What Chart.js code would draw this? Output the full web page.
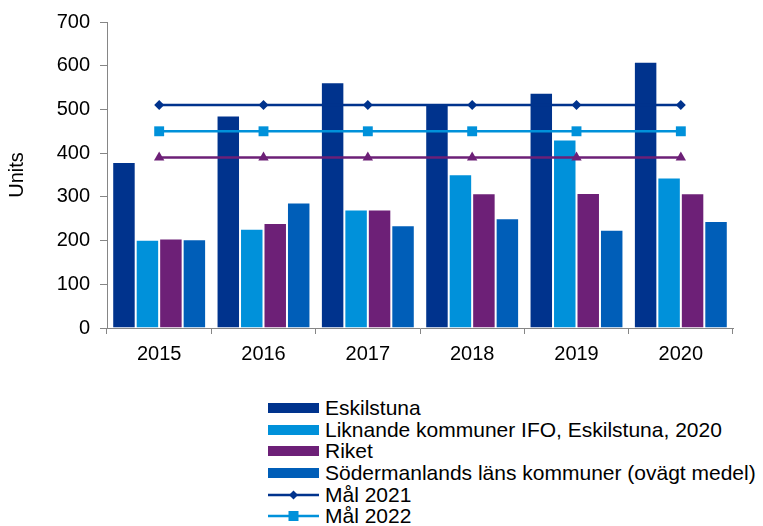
<!DOCTYPE html>
<html>
<head>
<meta charset="utf-8">
<script src="https://cdn.jsdelivr.net/npm/chart.js@4"></script>
<style>
    body { margin: 0; background: #fff; font-family: 'Liberation Sans', Arial, sans-serif; }
    #wrap { position: relative; width: 763px; height: 526px; overflow: hidden; }
    #chart { position: absolute; left: 0; top: 0; }
    #legend { position: absolute; left: 268px; top: 397px; font-size: 21px; color: #000; }
    .row { display: flex; align-items: center; height: 21.7px; white-space: nowrap; }
    .swatch { width: 51px; height: 10px; margin-right: 6px; }
    .row svg { margin-right: 6px; }
</style>
</head>
<body>
<div id="wrap">
    <canvas id="chart" width="763" height="370"></canvas>
    <div id="legend"></div>
</div>
<script>
// Data
const years = ['2015', '2016', '2017', '2018', '2019', '2020'];
const eskilstuna = [380, 486, 562, 510, 538, 609];
const liknande = [202, 227, 271, 352, 431, 344];
const riket = [205, 240, 271, 308, 309, 308];
const sodermanland = [203, 287, 235, 251, 225, 245];
const mal2021 = [510, 510, 510, 510, 510, 510];
const mal2022 = [450, 450, 450, 450, 450, 450];
const mal2023 = [390, 390, 390, 390, 390, 390];
const yTicks = [0, 100, 200, 300, 400, 500, 600, 700];

const FONT = "'Liberation Sans', Arial, sans-serif";
const AXIS_COLOR = '#868686';

const barSeries = [
    { label: 'Eskilstuna', data: eskilstuna, color: '#00338D' },
    { label: 'Liknande kommuner IFO, Eskilstuna, 2020', data: liknande, color: '#0091DA' },
    { label: 'Riket', data: riket, color: '#6D2077' },
    { label: 'Södermanlands läns kommuner (ovägt medel)', data: sodermanland, color: '#005EB8' }
];
const lineSeries = [
    { label: 'Mål 2021', data: mal2021, color: '#00338D', style: 'rectRot', radius: 5 },
    { label: 'Mål 2022', data: mal2022, color: '#0091DA', style: 'rect', radius: 7 },
    { label: 'Mål 2023', data: mal2023, color: '#6D2077', style: 'triangle', radius: 6 }
];

const datasets = [];
barSeries.forEach(s => {
    datasets.push({
        type: 'bar',
        label: s.label,
        data: s.data,
        backgroundColor: s.color,
        borderColor: 'rgba(255,255,255,0.7)',
        borderWidth: 1,
        categoryPercentage: 0.9,
        barPercentage: 1.0,
        order: 1
    });
});
lineSeries.forEach(s => {
    datasets.push({
        type: 'line',
        label: s.label,
        data: s.data,
        borderColor: s.color,
        backgroundColor: s.color,
        borderWidth: 2.5,
        pointStyle: s.style,
        pointRadius: s.radius,
        pointBackgroundColor: s.color,
        pointBorderColor: s.color,
        pointBorderWidth: 0,
        fill: false,
        order: 0
    });
});

new Chart(document.getElementById('chart'), {
    type: 'bar',
    data: { labels: years, datasets: datasets },
    options: {
        responsive: false,
        animation: false,
        devicePixelRatio: 1,
        layout: { padding: { top: 19, right: 30, left: 0, bottom: 0 } },
        plugins: {
            legend: { display: false },
            tooltip: { enabled: false }
        },
        scales: {
            x: {
                grid: { offset: true, drawOnChartArea: false, drawTicks: true, tickLength: 6, color: AXIS_COLOR },
                border: { color: AXIS_COLOR, width: 1 },
                ticks: { font: { family: FONT, size: 20 }, color: '#000', padding: 8 },
                afterFit: scale => { scale.height = 42; }
            },
            y: {
                min: 0,
                max: 700,
                afterBuildTicks: scale => { scale.ticks = yTicks.map(v => ({ value: v })); },
                grid: { drawOnChartArea: false, drawTicks: true, tickLength: 7, color: AXIS_COLOR },
                border: { color: AXIS_COLOR, width: 1 },
                ticks: { font: { family: FONT, size: 20 }, color: '#000', padding: 10 },
                title: { display: true, text: 'Units', font: { family: FONT, size: 20 }, color: '#000', padding: { top: 5, bottom: 0 } },
                afterFit: scale => { scale.width = 107; }
            }
        }
    }
});

// Legend (first six entries only, as in the original)
function markerSvg(s) {
    let m = '';
    if (s.style === 'rectRot') m = '<polygon points="25.5,0.5 30,5 25.5,9.5 21,5" fill="' + s.color + '"/>';
    if (s.style === 'rect') m = '<rect x="20.5" y="0" width="10" height="10" fill="' + s.color + '"/>';
    return '<svg width="51" height="10"><line x1="0" y1="5" x2="51" y2="5" stroke="' + s.color + '" stroke-width="2.5"/>' + m + '</svg>';
}
const legend = document.getElementById('legend');
barSeries.forEach(s => {
    legend.innerHTML += '<div class="row"><div class="swatch" style="background:' + s.color + '"></div>' + s.label + '</div>';
});
lineSeries.slice(0, 2).forEach(s => {
    legend.innerHTML += '<div class="row">' + markerSvg(s) + s.label + '</div>';
});
</script>
</body>
</html>
